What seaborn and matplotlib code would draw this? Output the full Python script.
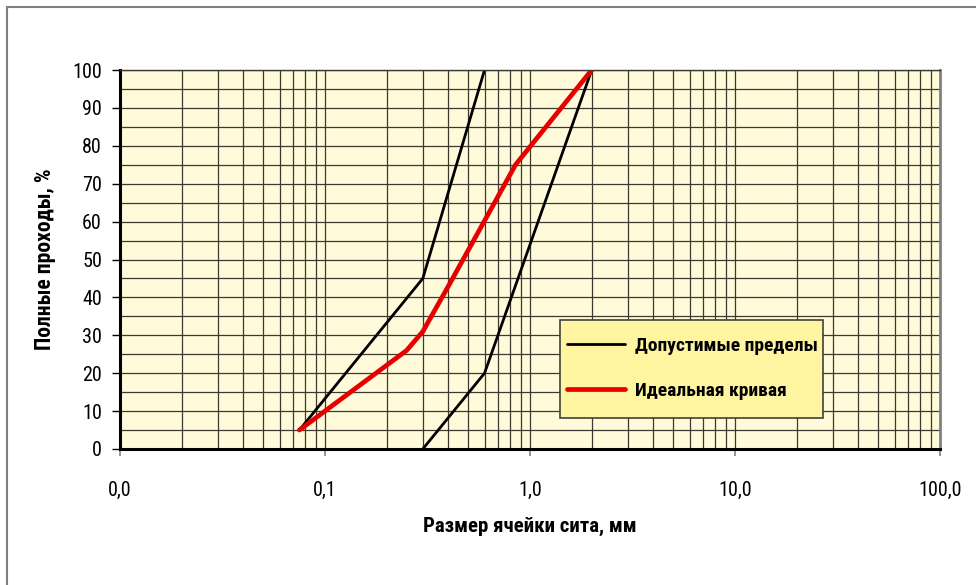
import numpy as np
import pandas as pd
import seaborn as sns
import matplotlib.pyplot as plt
from matplotlib.patches import Rectangle
from matplotlib.lines import Line2D
from matplotlib import font_manager
from matplotlib.ticker import FixedLocator, FixedFormatter, MultipleLocator, LogLocator

# =========================
# DATA
# =========================

upper_size = [0.075, 0.3, 0.6]
upper_pass = [5, 45, 100]

lower_size = [0.3, 0.6, 2.0]
lower_pass = [0, 20, 100]

ideal_size = [0.075, 0.25, 0.3, 0.4, 0.85, 2.0]
ideal_pass = [5, 26, 31, 43, 75, 100]

x_ticks = [0.01, 0.1, 1, 10, 100]
x_tick_labels = ["0,0", "0,1", "1,0", "10,0", "100,0"]
y_ticks = list(range(0, 101, 10))

legend_labels = ["Допустимые пределы", "Идеальная кривая"]

# =========================
# STYLE
# =========================

sns.set_style("white")

# pick a narrow font if one is around
names = {f.name for f in font_manager.fontManager.ttflist}
narrow = [n for n in ["Roboto Condensed", "Liberation Sans Narrow", "Open Sans Condensed",
                      "Noto Sans Condensed", "DejaVu Sans Condensed"] if n in names]
plt.rcParams["font.family"] = narrow[:1] + ["DejaVu Sans"]
if not narrow:
    plt.rcParams["font.stretch"] = "condensed"
plt.rcParams["text.color"] = "black"
plt.rcParams["xtick.color"] = "black"
plt.rcParams["ytick.color"] = "black"
plt.rcParams["axes.labelcolor"] = "black"

upper = pd.DataFrame({"size": upper_size, "pass": upper_pass})
lower = pd.DataFrame({"size": lower_size, "pass": lower_pass})
ideal = pd.DataFrame({"size": ideal_size, "pass": ideal_pass})

W, H = 976, 585
fig = plt.figure(figsize=(W / 100, H / 100), dpi=100)
ax = fig.add_axes([120 / W, 1 - 449 / H, 820 / W, 379 / H])
ax.set_facecolor("#FFFBDA")

# outer frame
fig.patches.append(Rectangle((7 / W, -0.1), 1.2, 1.1 - 7 / H,
                             transform=fig.transFigure, fill=False,
                             edgecolor="#808080", linewidth=1.5))

sns.lineplot(data=upper, x="size", y="pass", color="black", linewidth=2.0, ax=ax)
sns.lineplot(data=lower, x="size", y="pass", color="black", linewidth=2.0, ax=ax)
sns.lineplot(data=ideal, x="size", y="pass", color="#E60000", linewidth=3.4, ax=ax)

ax.set_xscale("log")
ax.set_xlim(0.01, 100)
ax.set_ylim(0, 100)

ax.xaxis.set_major_locator(FixedLocator(x_ticks))
ax.xaxis.set_major_formatter(FixedFormatter(x_tick_labels))
ax.xaxis.set_minor_locator(LogLocator(base=10, subs=np.arange(2, 10)))
ax.yaxis.set_major_locator(FixedLocator(y_ticks))
ax.yaxis.set_minor_locator(MultipleLocator(5))

ax.grid(True, which="both", color="#3C3A30", linewidth=0.9)
ax.set_axisbelow(True)

ax.tick_params(axis="x", which="major", direction="out", length=5, width=1.2,
               color="#808080", labelcolor="black", pad=18, labelsize=14.5, bottom=True)
ax.tick_params(axis="x", which="minor", length=0)
ax.tick_params(axis="y", which="major", direction="out", length=6, width=1,
               color="black", pad=7, labelsize=14.5, left=True)
ax.tick_params(axis="y", which="minor", length=0)

for side in ["left", "bottom"]:
    ax.spines[side].set_color("black")
    ax.spines[side].set_linewidth(2.2)
ax.spines["right"].set_color("#808080")
ax.spines["right"].set_linewidth(2)
ax.spines["top"].set_color("#3C3A30")
ax.spines["top"].set_linewidth(1)

ax.set_xlabel("Размер ячейки сита, мм", fontsize=15, fontweight="bold", labelpad=12)
ax.set_ylabel("Полные проходы, %", fontsize=15.5, fontweight="bold", labelpad=12)

# legend box (drawn by hand so that padding matches)
def px_to_axes(x, y):
    return (x - 120) / 820, (449 - y) / 379

bx0, by0 = px_to_axes(560, 418)
bx1, by1 = px_to_axes(823, 320)
ax.add_patch(Rectangle((bx0, by0), bx1 - bx0, by1 - by0, transform=ax.transAxes,
                       facecolor="#FFF5A0", edgecolor="#404040", linewidth=1.2,
                       zorder=4))

handles = [Line2D([], [], color="black", linewidth=2.0),
           Line2D([], [], color="#E60000", linewidth=3.4)]
leg = ax.legend(handles, legend_labels, loc="center left",
                bbox_to_anchor=px_to_axes(567, 368.5),
                frameon=False, prop={"weight": "bold", "size": 14},
                handlelength=3.0, handletextpad=0.5, labelspacing=1.4,
                borderpad=0, borderaxespad=0)
leg.set_zorder(5)

fig.savefig("out.png", dpi=100)
